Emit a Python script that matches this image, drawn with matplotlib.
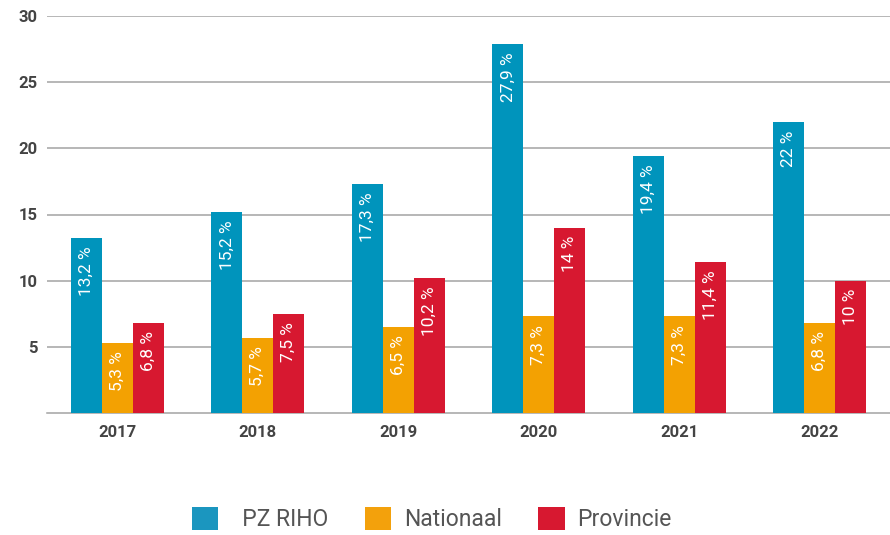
import matplotlib
matplotlib.use("Agg")
import matplotlib.pyplot as plt
from matplotlib.patches import Patch
import numpy as np

plt.rcParams['font.family'] = ['Roboto', 'DejaVu Sans']

# Gegevens
jaren = ["2017", "2018", "2019", "2020", "2021", "2022"]
pz_riho = [13.2, 15.2, 17.3, 27.9, 19.4, 22.0]
nationaal = [5.3, 5.7, 6.5, 7.3, 7.3, 6.8]
provincie = [6.8, 7.5, 10.2, 14.0, 11.4, 10.0]
reeksen = ["  PZ RIHO", "Nationaal", "Provincie"]
y_ticks = [5, 10, 15, 20, 25, 30]

kleuren = ["#0094BC", "#F3A102", "#D71830"]
legende_kleuren = ["#1B96BF", "#F3A10C", "#D71830"]


def fmt(v):
    # Belgische notatie: komma als decimaal teken
    if float(v).is_integer():
        return f"{int(v)} %"
    return f"{v:.1f}".replace(".", ",") + " %"


fig = plt.figure(figsize=(8.9, 5.35), dpi=100)
ax = fig.add_axes([47 / 890, 122 / 535, 1 - 47 / 890, (413 - 16) / 535])

x = np.arange(len(jaren))
breedte = 0.22

for i, (waarden, kleur) in enumerate(zip([pz_riho, nationaal, provincie], kleuren)):
    pos = x + (i - 1) * breedte
    ax.bar(pos, waarden, width=breedte, color=kleur, zorder=3, linewidth=0)
    for px, v in zip(pos, waarden):
        ax.annotate(fmt(v), (px, v), xytext=(0, -6), textcoords="offset points",
                    rotation=90, ha="center", va="top", color="white",
                    fontsize=12.5, zorder=4)

ax.set_xlim(-0.5, len(jaren) - 0.5)
ax.set_ylim(0, 30)
ax.set_yticks(y_ticks)
ax.set_xticks(x)
ax.set_xticklabels(jaren)

ax.yaxis.grid(True, color="#a3a3a3", linewidth=1.1, zorder=0)
ax.set_axisbelow(True)
for s in ["left", "right", "top"]:
    ax.spines[s].set_visible(False)
ax.spines["bottom"].set_color("#a3a3a3")
ax.spines["bottom"].set_linewidth(1.1)

ax.tick_params(axis="y", length=0, pad=6.5, labelsize=12, labelcolor="#444444")
ax.tick_params(axis="x", length=0, pad=8.5, labelsize=12, labelcolor="#444444")
for lbl in ax.get_xticklabels() + ax.get_yticklabels():
    lbl.set_fontweight("bold")

handles = [Patch(facecolor=c, edgecolor="none") for c in legende_kleuren]
fig.legend(handles, reeksen, loc="center", bbox_to_anchor=(0.485, 0.03),
           ncol=3, frameon=False, fontsize=16.5, labelcolor="#555555",
           handlelength=1.15, handleheight=1.15, handletextpad=0.55,
           columnspacing=1.6, borderpad=0)

fig.savefig("out.png", dpi=100)
